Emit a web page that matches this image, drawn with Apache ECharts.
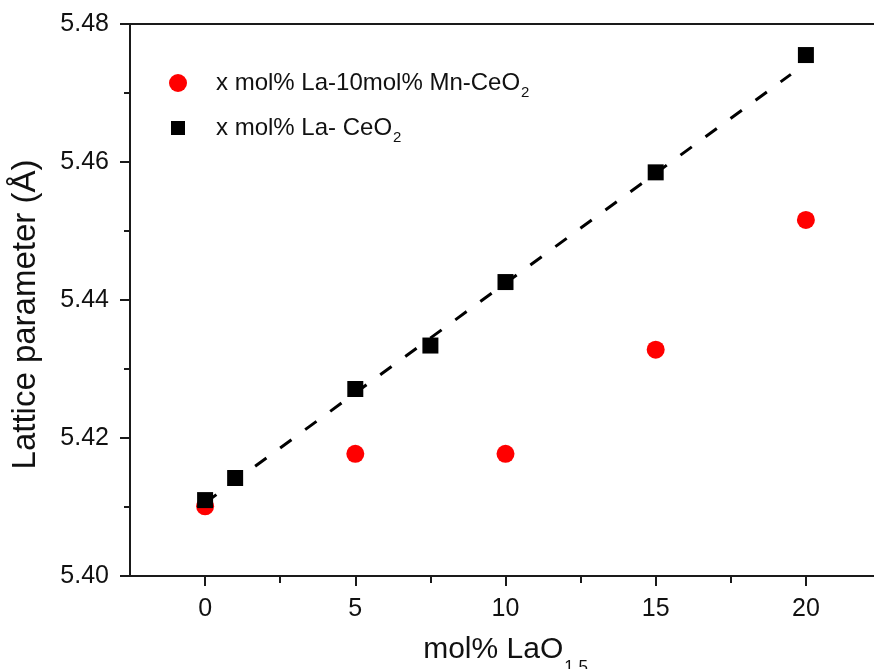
<!DOCTYPE html>
<html>
<head>
<meta charset="utf-8">
<script src="https://cdn.jsdelivr.net/npm/echarts@6/dist/echarts.min.js"></script>
<style>
  html, body { margin: 0; padding: 0; background: #fff; }
  #chart { width: 874px; height: 669px; }
</style>
</head>
<body>
<div id="chart"></div>
<script>
// ---- data ----
const laCeX = [0, 1, 5, 7.5, 10, 15, 20];
const laCeY = [5.4110, 5.4142, 5.4271, 5.4334, 5.4426, 5.4585, 5.4755];
const laMnX = [0, 5, 10, 15, 20];
const laMnY = [5.4101, 5.4177, 5.4177, 5.4328, 5.4516];
const fitX = [0, 19.5];
const fitY = [5.4106, 5.4727];
const xMajorTicks = [0, 5, 10, 15, 20];
const xMinorTicks = [2.5, 7.5, 12.5, 17.5];
const seriesNames = ['x mol% La-10mol% Mn-CeO2', 'x mol% La- CeO2'];
const xAxisTitle = 'mol% LaO';
const xAxisTitleSub = '1.5';
const yAxisTitle = 'Lattice parameter (Å)';

const FONT = 'Liberation Sans, Arial, sans-serif';
const AXIS_COLOR = '#1a1a1a';

const chart = echarts.init(document.getElementById('chart'), null, { renderer: 'canvas' });

function zip(xs, ys) { return xs.map((x, i) => [x, ys[i]]); }

const legendRich = {
  a: { fontSize: 24, fontFamily: FONT, color: '#111', lineHeight: 28 },
  sub: { fontSize: 15, fontFamily: FONT, color: '#111', lineHeight: 15, verticalAlign: 'top', padding: [16, 0, 0, 1] }
};
function legendFmt(name) {
  return '{a|' + name.slice(0, -1) + '}{sub|' + name.slice(-1) + '}';
}

const option = {
  backgroundColor: '#fff',
  animation: false,
  grid: {
    left: 130, top: 24, right: -7, bottom: 93,
    outerBoundsMode: 'none', containLabel: false,
    show: true, borderColor: AXIS_COLOR, borderWidth: 2, backgroundColor: 'transparent'
  },
  legend: [
    {
      data: [{ name: seriesNames[0], icon: 'circle' }],
      left: 169, top: 69, padding: 0,
      itemWidth: 18, itemHeight: 18, itemGap: 0,
      textStyle: { padding: [0, 0, 0, 24], rich: legendRich },
      formatter: legendFmt,
      selectedMode: false
    },
    {
      data: [{ name: seriesNames[1], icon: 'rect' }],
      left: 171, top: 114, padding: 0,
      itemWidth: 14, itemHeight: 14, itemGap: 0,
      textStyle: { padding: [0, 0, 0, 26], rich: legendRich },
      formatter: legendFmt,
      selectedMode: false
    }
  ],
  xAxis: [
    {
      type: 'value', min: -2.5, max: 22.5, position: 'bottom',
      name: '{m|' + xAxisTitle + '}{s|' + xAxisTitleSub + '}',
      nameLocation: 'middle', nameGap: 57,
      nameTextStyle: {
        rich: {
          m: { fontSize: 30, fontFamily: FONT, color: '#111', lineHeight: 34 },
          s: { fontSize: 17, fontFamily: FONT, color: '#111', lineHeight: 17, verticalAlign: 'top', padding: [26, 0, 0, 1] }
        }
      },
      splitLine: { show: false },
      axisLine: { show: true, onZero: false, lineStyle: { color: AXIS_COLOR, width: 2 } },
      axisTick: { show: true, inside: false, length: 10, customValues: xMajorTicks, lineStyle: { color: AXIS_COLOR, width: 2 } },
      axisLabel: { show: true, customValues: xMajorTicks, margin: 21, fontSize: 25, fontFamily: FONT, color: '#111' }
    },
    {
      type: 'value', min: -2.5, max: 22.5, position: 'bottom',
      splitLine: { show: false },
      axisLine: { show: false, onZero: false },
      axisTick: { show: true, inside: false, length: 7, customValues: xMinorTicks, lineStyle: { color: AXIS_COLOR, width: 2 } },
      axisLabel: { show: false }
    }
  ],
  yAxis: {
    type: 'value', min: 5.40, max: 5.48, interval: 0.02,
    name: yAxisTitle, nameLocation: 'middle', nameGap: 88, nameRotate: 90,
    nameTextStyle: { fontSize: 33, fontFamily: FONT, color: '#111', padding: [0, 29, 0, 0] },
    splitLine: { show: false },
    axisLine: { show: true, onZero: false, lineStyle: { color: AXIS_COLOR, width: 2 } },
    axisTick: { show: true, inside: false, length: 10, lineStyle: { color: AXIS_COLOR, width: 2 } },
    minorTick: { show: true, splitNumber: 2, length: 6, lineStyle: { color: AXIS_COLOR, width: 2 } },
    axisLabel: { margin: 21, fontSize: 25, fontFamily: FONT, color: '#111', formatter: v => v.toFixed(2) }
  },
  series: [
    {
      name: 'fit', type: 'line', data: zip(fitX, fitY), symbol: 'none', z: 1,
      lineStyle: { color: '#000', width: 3, type: [14, 17] }, silent: true
    },
    {
      name: seriesNames[0], type: 'scatter', data: zip(laMnX, laMnY),
      symbol: 'circle', symbolSize: 18, itemStyle: { color: '#ff0000', opacity: 1 }, z: 2
    },
    {
      name: seriesNames[1], type: 'scatter', data: zip(laCeX, laCeY),
      symbol: 'rect', symbolSize: 16, itemStyle: { color: '#000', opacity: 1 }, z: 3
    }
  ]
};
chart.setOption(option);
</script>
</body>
</html>
